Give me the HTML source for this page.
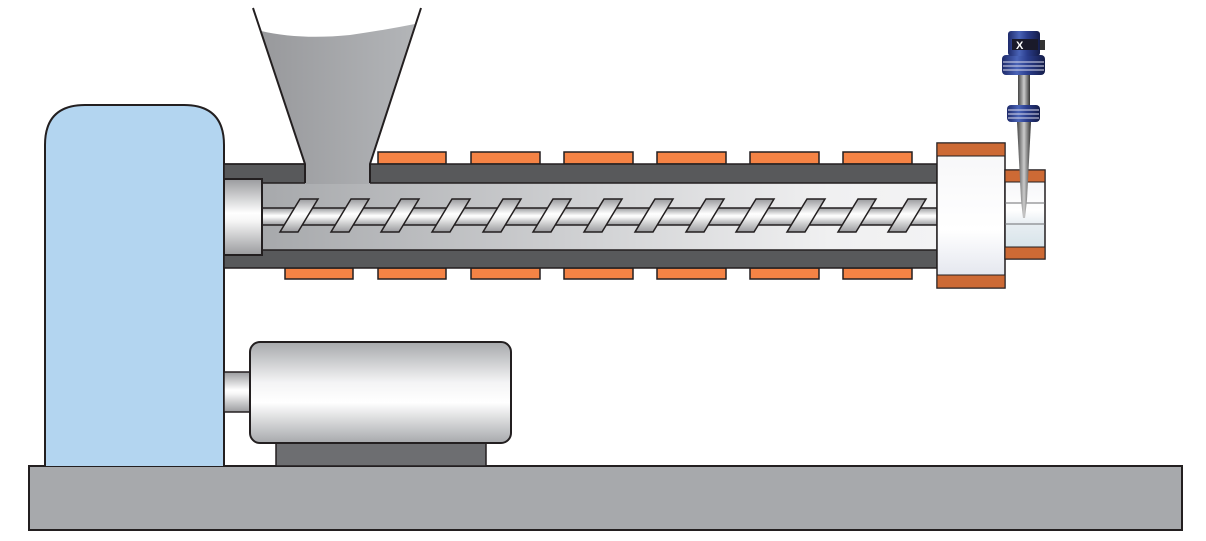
<!DOCTYPE html>
<html><head><meta charset="utf-8"><style>html,body{margin:0;padding:0;background:#fff}svg{display:block}</style></head>
<body>
<svg width="1206" height="541" viewBox="0 0 1206 541" xmlns="http://www.w3.org/2000/svg">
<defs>
<linearGradient id="hop" x1="0" x2="1" y1="0" y2="0"><stop offset="0" stop-color="#98999c"/><stop offset="1" stop-color="#b3b5b8"/></linearGradient>
<linearGradient id="bore" x1="0" x2="1" y1="0" y2="0"><stop offset="0" stop-color="#a2a4a7"/><stop offset="0.55" stop-color="#d4d5d7"/><stop offset="0.85" stop-color="#f0f0f1"/><stop offset="1" stop-color="#f3f3f4"/></linearGradient>
<linearGradient id="cyl" x1="0" x2="0" y1="0" y2="1"><stop offset="0" stop-color="#9a9b9e"/><stop offset="0.45" stop-color="#ffffff"/><stop offset="0.55" stop-color="#f6f6f6"/><stop offset="1" stop-color="#9a9b9e"/></linearGradient>
<linearGradient id="mot" x1="0" x2="0" y1="0" y2="1"><stop offset="0" stop-color="#a7a9ac"/><stop offset="0.4" stop-color="#f4f4f5"/><stop offset="0.6" stop-color="#ffffff"/><stop offset="1" stop-color="#a7a9ac"/></linearGradient>
<linearGradient id="noz" x1="0" x2="0" y1="0" y2="1"><stop offset="0" stop-color="#f6f6f8"/><stop offset="0.6" stop-color="#ffffff"/><stop offset="1" stop-color="#dde0ea"/></linearGradient>
<linearGradient id="nz2" x1="0" x2="0" y1="0" y2="1"><stop offset="0" stop-color="#f2f3f6"/><stop offset="0.45" stop-color="#ffffff"/><stop offset="0.6" stop-color="#e8eef2"/><stop offset="1" stop-color="#cfdfe6"/></linearGradient>
<linearGradient id="blu" x1="0" x2="1" y1="0" y2="0"><stop offset="0" stop-color="#1e2a6a"/><stop offset="0.35" stop-color="#4a64b8"/><stop offset="0.6" stop-color="#2a3d8c"/><stop offset="1" stop-color="#141c48"/></linearGradient>
<linearGradient id="stm" x1="0" x2="1" y1="0" y2="0"><stop offset="0" stop-color="#444"/><stop offset="0.5" stop-color="#ccc"/><stop offset="1" stop-color="#333"/></linearGradient>
</defs>
<!-- base -->
<rect x="29" y="466" width="1153" height="64" fill="#a7a9ac" stroke="#231f20" stroke-width="2"/>
<!-- blue body -->
<path d="M45,466 V145 Q45,105 85,105 H184 Q224,105 224,145 V466" fill="#b3d5f0" stroke="#231f20" stroke-width="2"/>
<!-- motor -->
<rect x="224" y="372" width="27" height="40" fill="url(#cyl)" stroke="#231f20" stroke-width="1.5"/>
<rect x="276" y="443" width="210" height="23" fill="#6d6e71" stroke="#231f20" stroke-width="1.5"/>
<rect x="250" y="342" width="261" height="101" rx="10" fill="url(#mot)" stroke="#231f20" stroke-width="2"/>
<!-- heaters -->
<g fill="#f58345" stroke="#231f20" stroke-width="1.5">
<rect x="378" y="152" width="68" height="12"/><rect x="471" y="152" width="69" height="12"/><rect x="564" y="152" width="69" height="12"/><rect x="657" y="152" width="69" height="12"/><rect x="750" y="152" width="69" height="12"/><rect x="843" y="152" width="69" height="12"/>
<rect x="285" y="268" width="68" height="11"/><rect x="378" y="268" width="68" height="11"/><rect x="471" y="268" width="69" height="11"/><rect x="564" y="268" width="69" height="11"/><rect x="657" y="268" width="69" height="11"/><rect x="750" y="268" width="69" height="11"/><rect x="843" y="268" width="69" height="11"/>
</g>
<!-- barrel -->
<rect x="224" y="164" width="713" height="104" fill="#58595b" stroke="#231f20" stroke-width="1.5"/>
<rect x="224" y="183" width="713" height="67" fill="url(#bore)" stroke="#231f20" stroke-width="1.5"/>
<!-- hopper -->
<path d="M261,31 Q300,40 350,35 Q385,30 415,24 L370,164 V184 H305 V164 Z" fill="url(#hop)"/>
<path d="M253,8 L305,164 V183" fill="none" stroke="#231f20" stroke-width="2"/>
<path d="M421,8 L370,164 V183" fill="none" stroke="#231f20" stroke-width="2"/>
<line x1="305" y1="164" x2="224" y2="164" stroke="#231f20" stroke-width="1.5"/>
<!-- screw -->
<rect x="262" y="208" width="675" height="17" fill="url(#cyl)" stroke="#231f20" stroke-width="1.5"/>
<rect x="224" y="179" width="38" height="76" fill="url(#cyl)" stroke="#231f20" stroke-width="2"/>
<g fill="url(#cyl)" stroke="#231f20" stroke-width="1.5">
<polygon points="280,232 298,232 318,199 300,199"/>
<polygon points="331,232 349,232 369,199 351,199"/>
<polygon points="381,232 399,232 419,199 401,199"/>
<polygon points="432,232 450,232 470,199 452,199"/>
<polygon points="483,232 501,232 521,199 503,199"/>
<polygon points="533,232 551,232 571,199 553,199"/>
<polygon points="584,232 602,232 622,199 604,199"/>
<polygon points="635,232 653,232 673,199 655,199"/>
<polygon points="686,232 704,232 724,199 706,199"/>
<polygon points="736,232 754,232 774,199 756,199"/>
<polygon points="787,232 805,232 825,199 807,199"/>
<polygon points="838,232 856,232 876,199 858,199"/>
<polygon points="888,232 906,232 926,199 908,199"/>
</g>
<!-- nozzle block -->
<rect x="937" y="143" width="68" height="145" fill="url(#noz)" stroke="#231f20" stroke-width="1.5"/>
<rect x="937" y="143" width="68" height="13" fill="#cd6a35" stroke="#231f20" stroke-width="1"/>
<rect x="937" y="275" width="68" height="13" fill="#cd6a35" stroke="#231f20" stroke-width="1"/>
<rect x="1005" y="170" width="40" height="89" fill="url(#nz2)" stroke="#231f20" stroke-width="1.5"/>
<line x1="1005" y1="203" x2="1045" y2="203" stroke="#6d6e71" stroke-width="1"/>
<line x1="1005" y1="224" x2="1045" y2="224" stroke="#6d6e71" stroke-width="1"/>
<rect x="1005" y="170" width="40" height="12" fill="#cd6a35" stroke="#231f20" stroke-width="1"/>
<rect x="1005" y="247" width="40" height="12" fill="#cd6a35" stroke="#231f20" stroke-width="1"/>
<!-- sensor -->
<polygon points="1017,122 1031,122 1027,200 1025,218 1023,218 1021,200" fill="url(#stm)"/>
<rect x="1018" y="74" width="12" height="32" fill="url(#stm)"/>
<rect x="1007" y="105" width="33" height="17" rx="4" fill="url(#blu)"/>
<g stroke="#dde" stroke-width="1"><line x1="1008" y1="110" x2="1039" y2="110"/><line x1="1008" y1="114" x2="1039" y2="114"/><line x1="1008" y1="118" x2="1039" y2="118"/></g>
<rect x="1002" y="55" width="43" height="20" rx="4" fill="url(#blu)"/>
<g stroke="#dde" stroke-width="1"><line x1="1003" y1="62" x2="1044" y2="62"/><line x1="1003" y1="66" x2="1044" y2="66"/><line x1="1003" y1="70" x2="1044" y2="70"/></g>
<rect x="1008" y="31" width="32" height="25" rx="3" fill="url(#blu)"/>
<rect x="1040" y="40" width="5" height="10" fill="#333"/>
<rect x="1012" y="39" width="26" height="11" fill="#1a1a2a"/>
<text x="1016" y="49" font-family="Liberation Sans, sans-serif" font-size="11" font-weight="bold" fill="#fff">X</text>
</svg>
</body></html>
